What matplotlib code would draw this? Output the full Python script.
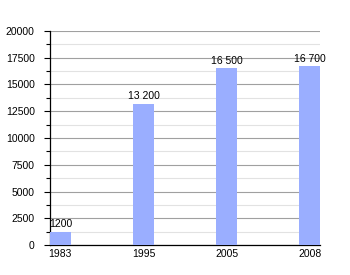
import matplotlib.pyplot as plt
from matplotlib.ticker import MultipleLocator

# --- DATA ---
years = ['1983', '1995', '2005', '2008']
population = [1200, 13200, 16500, 16700]
value_labels = ['1200', '13 200', '16 500', '16 700']

# --- STYLE ---
plt.rcParams['font.family'] = ['Liberation Sans', 'DejaVu Sans']
BAR_COLOR = '#9aaeff'

fig = plt.figure(figsize=(3.5, 2.75), dpi=100)
ax = fig.add_axes([50 / 350, 30 / 275, 270 / 350, 214 / 275])

x = list(range(len(years)))
ax.bar(x, population, width=0.25, color=BAR_COLOR, zorder=3)
for xi, v, lab in zip(x, population, value_labels):
    ax.text(xi, v + 250, lab, ha='center', va='bottom', fontsize=7.5, zorder=4)

ax.set_xlim(-0.125, 3.125)
ax.set_ylim(0, 20000)
ax.set_xticks(x)
ax.set_xticklabels(years)
ax.yaxis.set_major_locator(MultipleLocator(2500))
ax.yaxis.set_minor_locator(MultipleLocator(1250))
ax.grid(axis='y', which='major', color='#a0a0a0', linewidth=0.8, zorder=0)
ax.grid(axis='y', which='minor', color='#e2e2e2', linewidth=0.8, zorder=0)

for side in ['top', 'right']:
    ax.spines[side].set_visible(False)
ax.spines['left'].set_linewidth(0.9)
ax.spines['bottom'].set_linewidth(0.9)
ax.tick_params(axis='y', which='major', length=4, width=0.8, labelsize=7.5, pad=7)
ax.tick_params(axis='y', which='minor', length=3, width=0.8)
ax.tick_params(axis='x', length=0, labelsize=7.5, pad=3)

fig.savefig('out.png', dpi=100)
